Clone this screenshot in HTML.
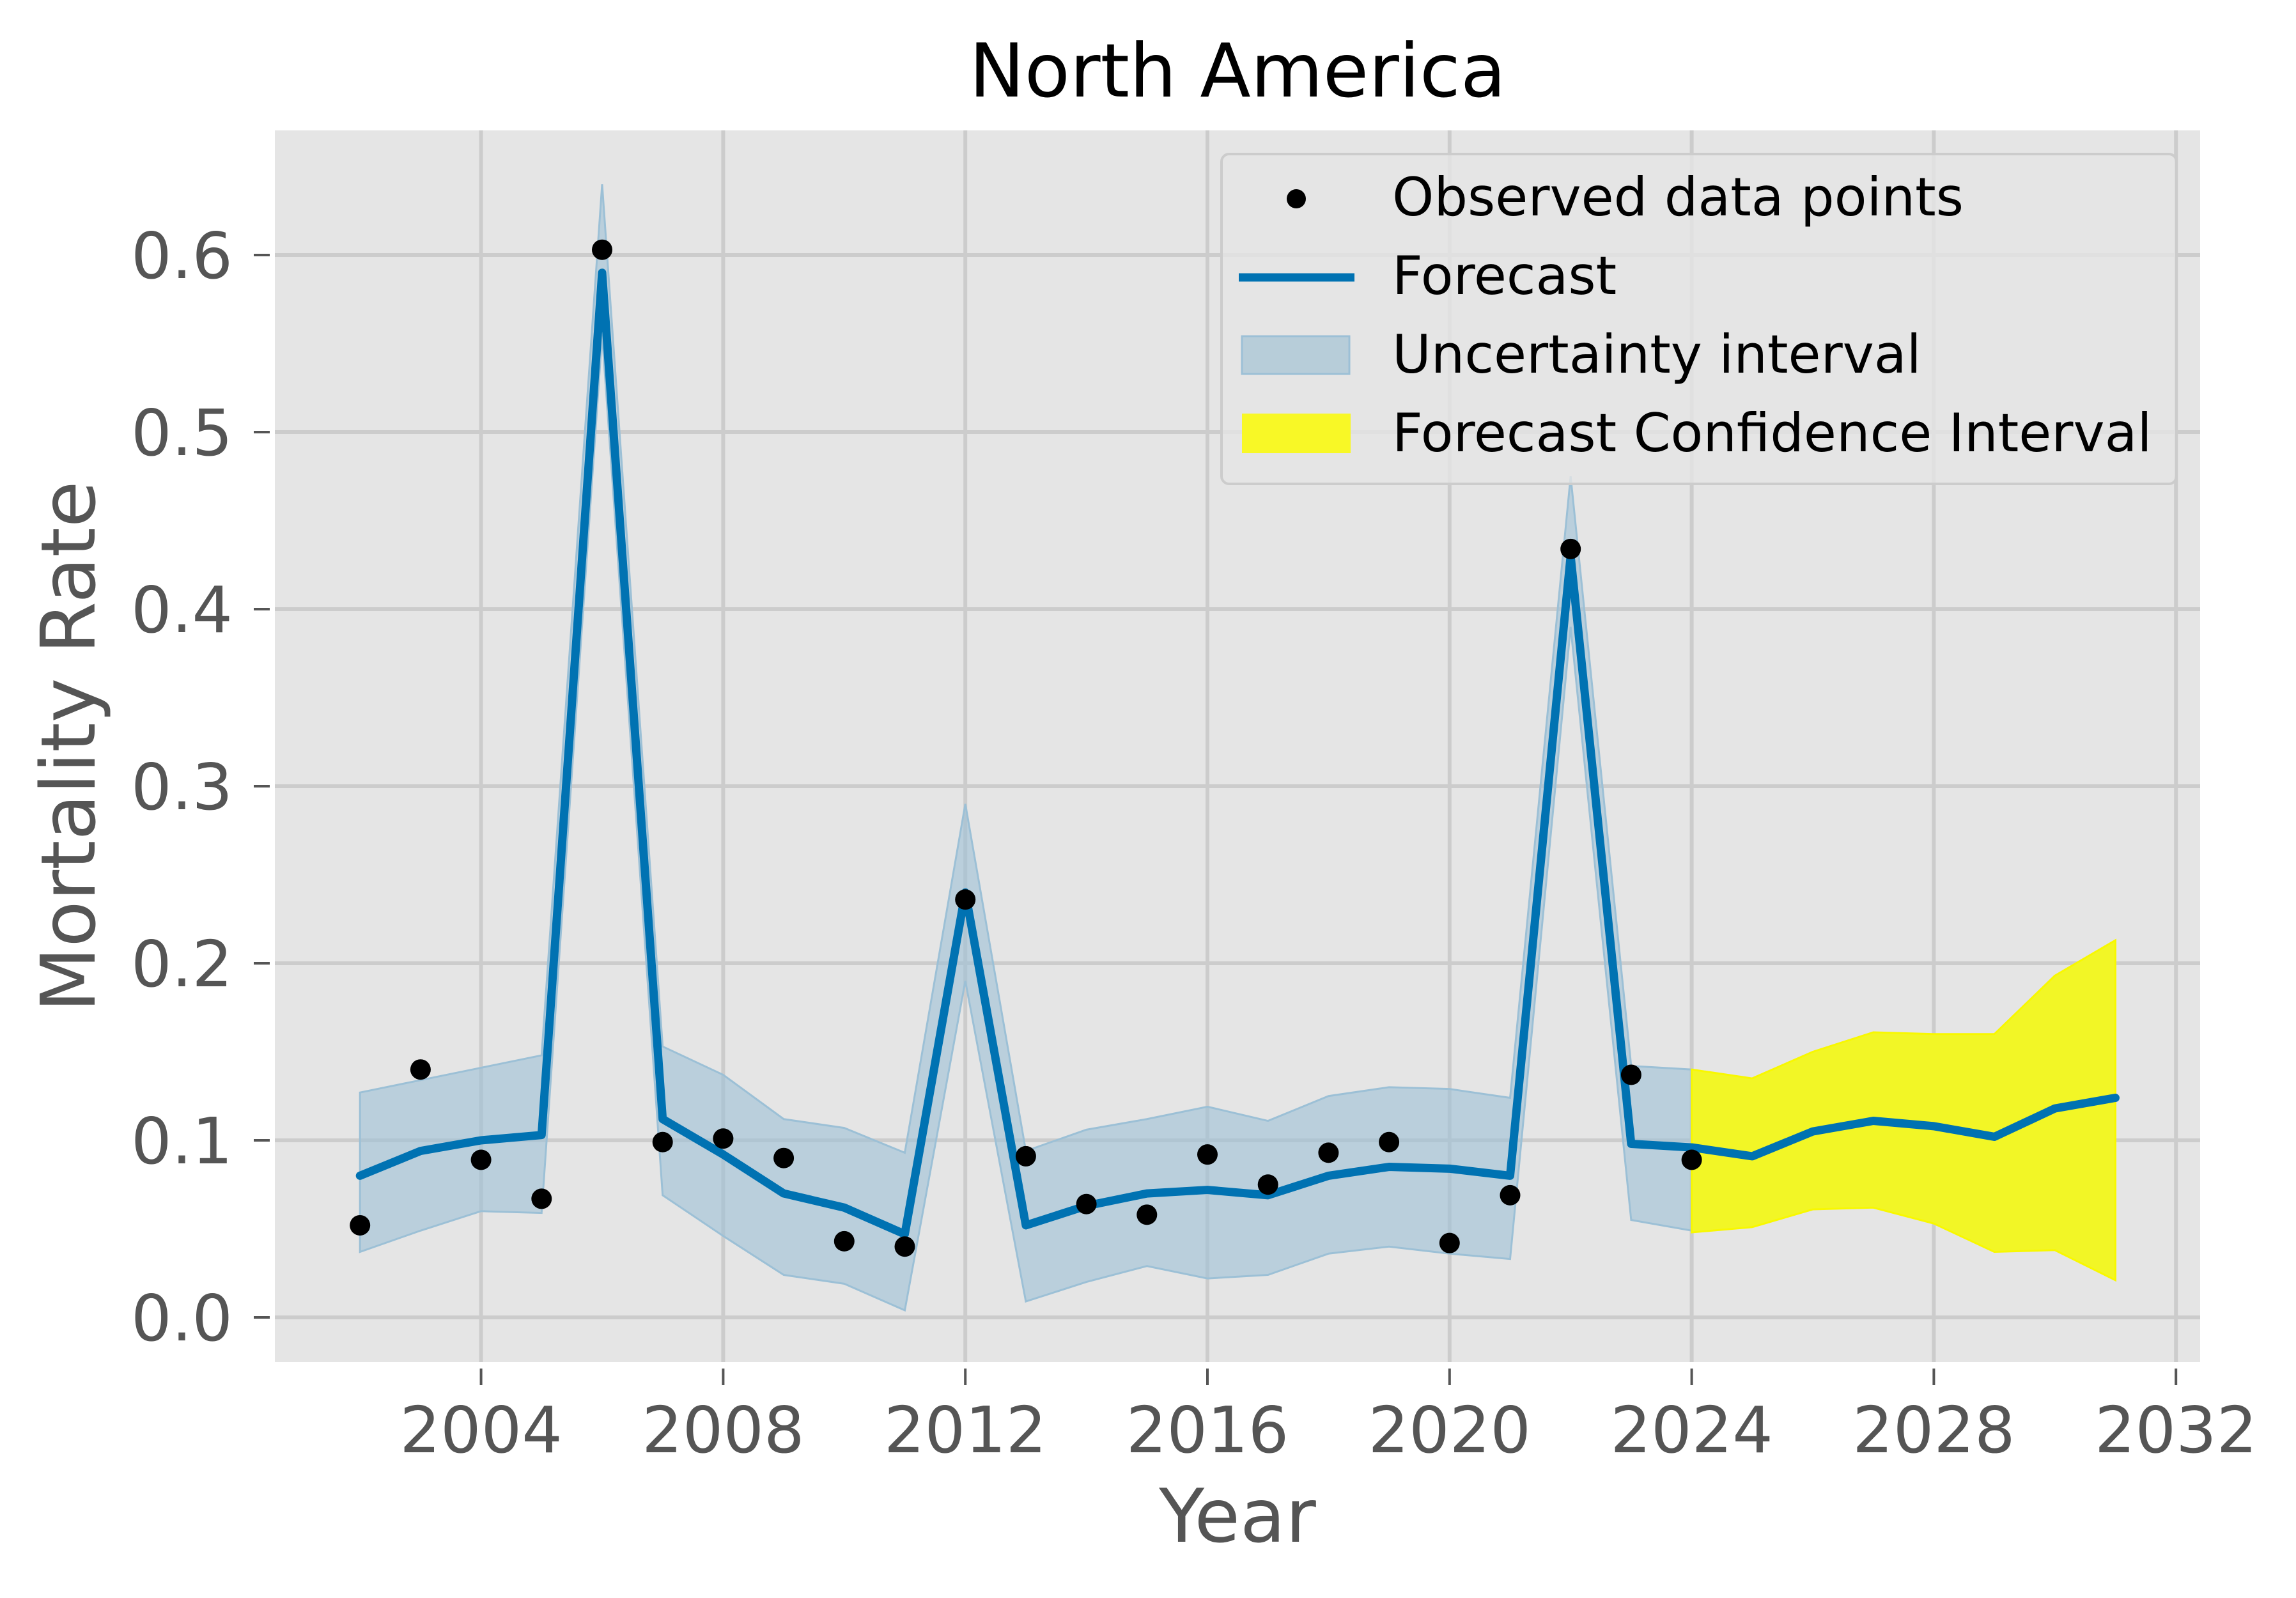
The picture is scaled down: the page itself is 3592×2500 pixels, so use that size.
<!DOCTYPE html>
<html><head><meta charset="utf-8"><style>
html,body{margin:0;padding:0;background:#fff;}
svg{display:block;font-family:"DejaVu Sans","Liberation Sans",sans-serif;}
</style></head><body>
<svg id="chart" width="3592" height="2500" viewBox="0 0 3592 2500" xmlns="http://www.w3.org/2000/svg">
<rect width="3592" height="2500" fill="#fff"/>
<rect x="430" y="204" width="3012" height="1927" fill="#e5e5e5"/>
<g id="grid"></g>
<g id="bands"></g>
<g id="lines"></g>
<g id="points"></g>
<g id="axes"></g>
<text x="1936" y="151" font-size="116" text-anchor="middle" fill="#000">North America</text>
<text x="1936" y="2412" font-size="116" text-anchor="middle" fill="#555">Year</text>
<text x="0" y="0" font-size="118" text-anchor="middle" fill="#555" transform="translate(148,1168) rotate(-90)">Mortality Rate</text>
<g>
<rect x="1911" y="241" width="1494" height="516" rx="12" fill="#e5e5e5" fill-opacity="0.8" stroke="#cccccc" stroke-width="4"/>
<circle cx="2028" cy="311" r="15" fill="#000"/>
<text x="2178" y="337" font-size="83" fill="#000">Observed data points</text>
<line x1="1938" y1="434" x2="2119" y2="434" stroke="#0072b2" stroke-width="13"/>
<text x="2178" y="460" font-size="83" fill="#000">Forecast</text>
<rect x="1943" y="526" width="168" height="59" fill="#b7cdd9" stroke="#9cc0d6" stroke-width="3"/>
<text x="2178" y="583" font-size="83" fill="#000">Uncertainty interval</text>
<rect x="1943" y="647" width="170" height="62" fill="#f8f826"/>
<text x="2178" y="706" font-size="83" fill="#000">Forecast Confidence Interval</text>
</g>
</svg>
<script>
const obsYears = [2002,2003,2004,2005,2006,2007,2008,2009,2010,2011,2012,2013,2014,2015,2016,2017,2018,2019,2020,2021,2022,2023,2024];
const obsValues = [0.052,0.140,0.089,0.067,0.603,0.099,0.101,0.090,0.043,0.040,0.236,0.091,0.064,0.058,0.092,0.075,0.093,0.099,0.042,0.069,0.434,0.137,0.089];
const fcYears = [2002,2003,2004,2005,2006,2007,2008,2009,2010,2011,2012,2013,2014,2015,2016,2017,2018,2019,2020,2021,2022,2023,2024,2025,2026,2027,2028,2029,2030,2031];
const fcValues = [0.080,0.094,0.100,0.103,0.590,0.112,0.092,0.070,0.062,0.047,0.240,0.052,0.063,0.070,0.072,0.069,0.080,0.085,0.084,0.080,0.430,0.098,0.096,0.091,0.105,0.111,0.108,0.102,0.118,0.124];
const uncUpper = [0.127,0.134,0.141,0.148,0.640,0.153,0.137,0.112,0.107,0.093,0.290,0.094,0.106,0.112,0.119,0.111,0.125,0.130,0.129,0.124,0.475,0.142,0.140];
const uncLower = [0.037,0.049,0.060,0.059,0.555,0.069,0.046,0.024,0.019,0.004,0.190,0.009,0.020,0.029,0.022,0.024,0.036,0.040,0.036,0.033,0.390,0.055,0.049];
const ciYears = [2024,2025,2026,2027,2028,2029,2030,2031];
const ciUpper = [0.140,0.135,0.150,0.161,0.160,0.160,0.193,0.213];
const ciLower = [0.048,0.051,0.061,0.062,0.053,0.037,0.038,0.021];
const xTicks = [2004,2008,2012,2016,2020,2024,2028,2032];
const yTicks = [0.0,0.1,0.2,0.3,0.4,0.5,0.6];
const yTickLabels = ["0.0","0.1","0.2","0.3","0.4","0.5","0.6"];

const NS = "http://www.w3.org/2000/svg";
const PL=430, PR=3442, PT=204, PB=2131;
function xs(v){ return 752.6 + (v-2004)*94.7; }
function ys(v){ return 2061 - v*2770; }
function mk(tag, attrs, parent){
  const e=document.createElementNS(NS,tag);
  for(const k in attrs) e.setAttribute(k, attrs[k]);
  parent.appendChild(e); return e;
}
const grid=document.getElementById('grid'), axes=document.getElementById('axes');
xTicks.forEach(t=>{
  const x=xs(t);
  const g=mk('line',{x1:x,x2:x,y1:PT,y2:PB,stroke:'#cccccc','stroke-width':6},grid);
  
  
  const tk=mk('line',{x1:x,x2:x,y1:PB+10,y2:PB+36,stroke:'#555','stroke-width':4},axes);
  
  
  const tx=mk('text',{x:x,y:2272,'font-size':100,'text-anchor':'middle',fill:'#555'},axes);
  tx.textContent=String(t);
  
  
});
yTicks.forEach((t,i)=>{
  const y=ys(t);
  const g=mk('line',{x1:PL,x2:PR,y1:y,y2:y,stroke:'#cccccc','stroke-width':6},grid);
  
  
  const tk=mk('line',{x1:397,x2:422,y1:y,y2:y,stroke:'#555','stroke-width':4},axes);
  
  
  const tx=mk('text',{x:364,y:y+36,'font-size':100,'text-anchor':'end',fill:'#555'},axes);
  tx.textContent=yTickLabels[i];
  
  
});
function bandPath(years, up, lo){
  let d='';
  years.forEach((yr,i)=>{ d+=(i?'L':'M')+xs(yr)+','+ys(up[i]); });
  for(let i=years.length-1;i>=0;i--) d+='L'+xs(years[i])+','+ys(lo[i]);
  return d+'Z';
}
const bands=document.getElementById('bands');
const ub=mk('path',{d:bandPath(obsYears,uncUpper,uncLower),fill:'#9cc0d6','fill-opacity':0.6,stroke:'#9cc0d6','stroke-width':3},bands);


const cb=mk('path',{d:bandPath(ciYears,ciUpper,ciLower),fill:'#f2f626',stroke:'#f8f800','stroke-width':3},bands);


const lines=document.getElementById('lines');
const fl=mk('polyline',{points:fcYears.map((y,i)=>xs(y)+','+ys(fcValues[i])).join(' '),fill:'none',stroke:'#0072b2','stroke-width':13,'stroke-linejoin':'round','stroke-linecap':'round'},lines);


const pts=document.getElementById('points');
obsYears.forEach((yr,i)=>{
  const c=mk('circle',{cx:xs(yr),cy:ys(obsValues[i]),r:16,fill:'#000'},pts);
  
  
});
</script>
</body></html>
